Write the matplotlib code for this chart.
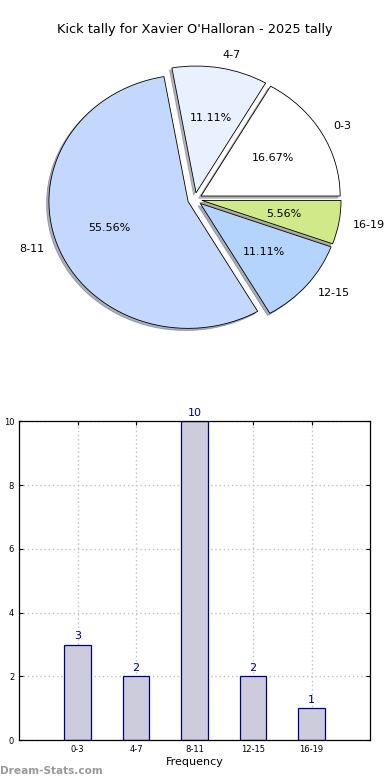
import matplotlib
matplotlib.use('Agg')
import matplotlib.pyplot as plt
import numpy as np

# tally data
ranges = ['0-3', '4-7', '8-11', '12-15', '16-19']
counts = [3, 2, 10, 2, 1]
pie_colors = ['#ffffff', '#eaf1fe', '#c4d8fe', '#b4d4fe', '#d0ea8a']
explode = [0.05, 0.05, 0.05, 0.05, 0.05]

fig = plt.figure(figsize=(3.9, 7.8), dpi=100)

# pie on top (stretched like the old style, no equal aspect)
ax1 = fig.add_axes([0.042, 0.536, 0.915, 0.417])
wedges, texts, autotexts = ax1.pie(counts, labels=ranges, colors=pie_colors, explode=explode,
                                   autopct='%.2f%%', startangle=0, radius=0.975,
                                   shadow={'ox': -0.012, 'oy': -0.012, 'shade': 0.55},
                                   wedgeprops={'edgecolor': 'black', 'linewidth': 0.6},
                                   textprops={'fontsize': 8})
ax1.set_aspect('auto')
ax1.set_xlim(-1.25, 1.25)
ax1.set_ylim(-1.25, 1.25)
fig.text(0.5, 0.962, "Kick tally for Xavier O'Halloran - 2025 tally", ha='center', va='center', fontsize=9.3)

# bar chart below
ax2 = fig.add_axes([0.049, 0.051, 0.9, 0.409])
x = np.arange(len(ranges))
ax2.bar(x, counts, width=0.45, color='#ccccdd', edgecolor='#000080', linewidth=0.9, zorder=2)
for xi, c in zip(x, counts):
    ax2.text(xi, c + 0.1, str(c), ha='center', va='bottom', color='#000080', fontsize=8)
ax2.set_xlim(-1, 5)
ax2.set_ylim(0, 10)
ax2.set_xticks(x)
ax2.set_xticklabels(ranges)
ax2.set_yticks([0, 2, 4, 6, 8, 10])
ax2.tick_params(labelsize=6, direction='in', top=True, right=True, length=3)
ax2.grid(True, linestyle=(0, (1, 2)), color='#c0c0c0', linewidth=1.0, zorder=0)
ax2.set_xlabel('Frequency', fontsize=8, labelpad=2)
ax2.set_ylabel('Distribution', fontsize=7)
ax2.yaxis.set_label_coords(-0.057, 0.53)
for s in ax2.spines.values():
    s.set_linewidth(0.9)

fig.text(0.0, 0.012, 'Dream-Stats.com', color='#999999', fontsize=7.6, fontweight='bold', ha='left', va='center')

fig.savefig('out.png', dpi=100)
